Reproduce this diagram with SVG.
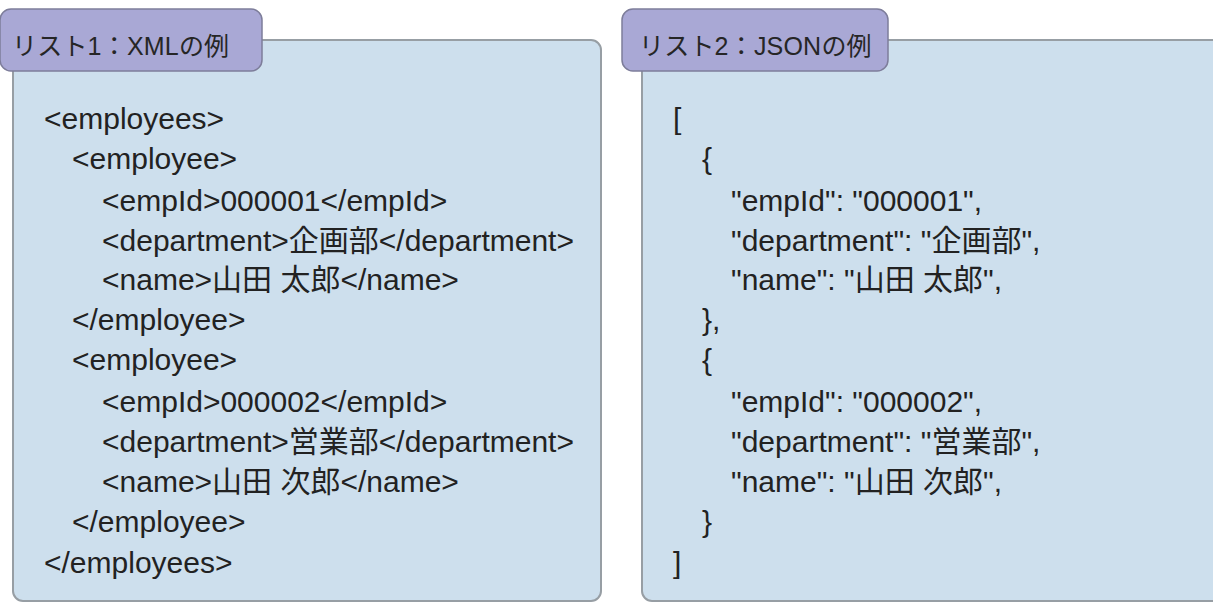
<svg xmlns="http://www.w3.org/2000/svg" width="1213" height="602" viewBox="0 0 1213 602">
<style>
.box{fill:#cddfed;stroke:#979ea4;stroke-width:2}
.tab{fill:#a9a8d5;stroke:#7d7d9a;stroke-width:1.5}
.title{font-family:"Liberation Sans","Noto Sans CJK JP",sans-serif;font-size:25px;fill:#262626;letter-spacing:0.2px}
.code{font-family:"Liberation Sans","Noto Sans CJK JP",sans-serif;font-size:30px;fill:#222}
</style>
<rect width="1213" height="602" fill="#ffffff"/>
<g id="xml-panel">
<rect class="box" x="13" y="40" width="588" height="561" rx="10"/>
<rect class="tab" x="0" y="9" width="262" height="62" rx="11"/>
<text class="title" x="12" y="55">リスト1：XMLの例</text>
<g class="code">
<text x="44" y="129">&lt;employees&gt;</text>
<text x="72" y="169">&lt;employee&gt;</text>
<text x="102" y="211">&lt;empId&gt;000001&lt;/empId&gt;</text>
<text x="102" y="251">&lt;department&gt;企画部&lt;/department&gt;</text>
<text x="102" y="290">&lt;name&gt;山田 太郎&lt;/name&gt;</text>
<text x="72" y="330">&lt;/employee&gt;</text>
<text x="72" y="370">&lt;employee&gt;</text>
<text x="102" y="412">&lt;empId&gt;000002&lt;/empId&gt;</text>
<text x="102" y="452">&lt;department&gt;営業部&lt;/department&gt;</text>
<text x="102" y="492">&lt;name&gt;山田 次郎&lt;/name&gt;</text>
<text x="72" y="532">&lt;/employee&gt;</text>
<text x="44" y="573">&lt;/employees&gt;</text>
</g>
</g>
<g id="json-panel">
<rect class="box" x="642" y="40" width="600" height="561" rx="10"/>
<rect class="tab" x="622" y="9" width="266" height="62" rx="11"/>
<text class="title" x="639" y="55">リスト2：JSONの例</text>
<g class="code">
<text x="673" y="129">[</text>
<text x="702" y="169">{</text>
<text x="731" y="211">"empId": "000001",</text>
<text x="731" y="251">"department": "企画部",</text>
<text x="731" y="290">"name": "山田 太郎",</text>
<text x="702" y="330">},</text>
<text x="702" y="370">{</text>
<text x="731" y="412">"empId": "000002",</text>
<text x="731" y="452">"department": "営業部",</text>
<text x="731" y="492">"name": "山田 次郎",</text>
<text x="702" y="532">}</text>
<text x="673" y="573">]</text>
</g>
</g>
<g id="connectors"/>
</svg>
